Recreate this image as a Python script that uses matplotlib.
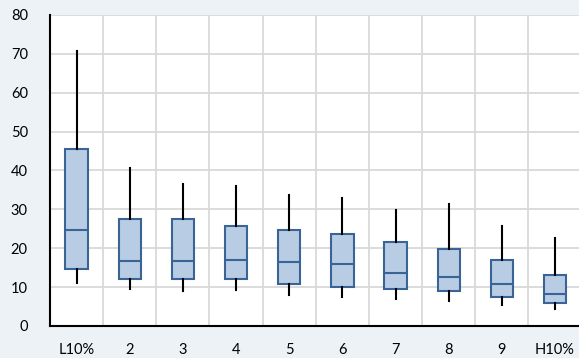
import numpy as np
from matplotlib import pyplot as plt
from matplotlib.ticker import FixedLocator

labels = ['L10%', '2', '3', '4', '5', '6', '7', '8', '9', 'H10%']
whislo = [11.0, 9.5, 8.9, 9.3, 8.0, 7.5, 7.0, 6.5, 5.5, 4.4]
q1 = [14.6, 12.0, 12.0, 12.1, 10.9, 9.9, 9.4, 8.9, 7.4, 5.8]
med = [24.8, 16.6, 16.6, 17.0, 16.5, 16.0, 13.6, 12.5, 10.9, 8.3]
q3 = [45.4, 27.4, 27.4, 25.8, 24.8, 23.7, 21.7, 19.7, 17.0, 13.0]
whishi = [70.8, 40.7, 36.6, 36.0, 33.8, 33.0, 29.9, 31.4, 25.6, 22.6]

stats = []
for i in range(len(labels)):
    stats.append({'whislo': whislo[i], 'q1': q1[i], 'med': med[i],
                  'q3': q3[i], 'whishi': whishi[i], 'label': labels[i]})

bg = '#edf2f7'
fig = plt.figure(figsize=(5.79, 3.58), dpi=100, facecolor=bg)
ax = fig.add_axes([0.0864, 0.0894, 0.918, 0.869])
ax.set_facecolor('white')

pos = np.arange(len(labels)) + 0.5
ax.bxp(stats, positions=pos, widths=0.42, patch_artist=True, showcaps=False,
       showfliers=False,
       boxprops=dict(facecolor='#b8cce4', edgecolor='#3a6496', linewidth=1.5),
       medianprops=dict(color='#3a6496', linewidth=1.5),
       whiskerprops=dict(color='black', linewidth=1.5))

ax.set_xlim(0, 10)
ax.set_ylim(0, 80)
ax.set_xticks(pos)
ax.set_xticklabels(labels)
ax.xaxis.set_minor_locator(FixedLocator(np.arange(1, 10)))
ax.set_yticks(np.arange(0, 81, 10))
ax.set_axisbelow(True)
ax.grid(axis='y', which='major', color='#d9d9d9', linewidth=1.3)
ax.grid(axis='x', which='minor', color='#d9d9d9', linewidth=1.3)
ax.grid(axis='x', which='major', visible=False)
ax.tick_params(length=0, which='both', labelsize=10.5)
ax.tick_params(axis='x', pad=12)
ax.tick_params(axis='y', pad=16)
for lab in ax.get_xticklabels() + ax.get_yticklabels():
    lab.set_fontfamily('Lato')
for s in ['top', 'right']:
    ax.spines[s].set_visible(False)
ax.spines['left'].set_linewidth(1.5)
ax.spines['bottom'].set_linewidth(1.5)

plt.savefig('out.png', dpi=100, facecolor=bg)
